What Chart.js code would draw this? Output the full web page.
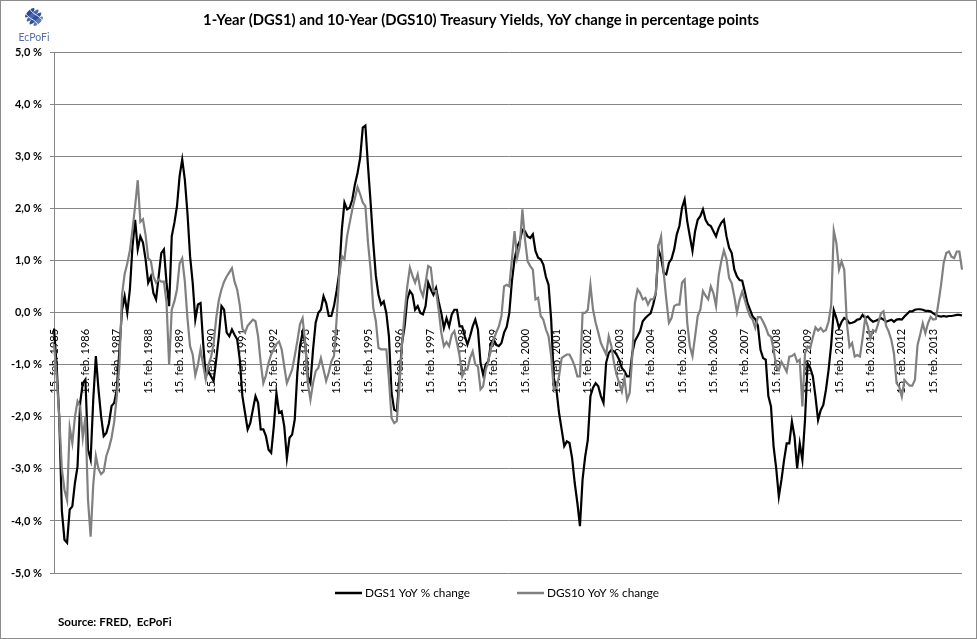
<!DOCTYPE html>
<html>
<head>
<meta charset="utf-8">
<script src="https://cdn.jsdelivr.net/npm/chart.js@4/dist/chart.umd.min.js"></script>
<style>
html,body{margin:0;padding:0;background:#fff;}
#wrap{width:977px;height:639px;position:relative;}
</style>
</head>
<body>
<div id="wrap"><canvas id="c" width="977" height="639"></canvas></div>
<script>
// ---- data (monthly, Feb 1985 .. Jan 2014) ----
const startYear = 1985;
const startMonth = 2;

const tickLabels = [
  '15. feb. 1985','15. feb. 1986','15. feb. 1987','15. feb. 1988','15. feb. 1989',
  '15. feb. 1990','15. feb. 1991','15. feb. 1992','15. feb. 1993','15. feb. 1994',
  '15. feb. 1995','15. feb. 1996','15. feb. 1997','15. feb. 1998','15. feb. 1999',
  '15. feb. 2000','15. feb. 2001','15. feb. 2002','15. feb. 2003','15. feb. 2004',
  '15. feb. 2005','15. feb. 2006','15. feb. 2007','15. feb. 2008','15. feb. 2009',
  '15. feb. 2010','15. feb. 2011','15. feb. 2012','15. feb. 2013'
];

const yTickLabels = ['-5,0 %','-4,0 %','-3,0 %','-2,0 %','-1,0 %','0,0 %','1,0 %','2,0 %','3,0 %','4,0 %','5,0 %'];

const dgs1 = [
  -0.3,-1.0,-2.0,-3.8,-4.36,-4.42,-3.78,-3.72,-3.27,-2.95,-1.73,-1.35,
  -1.28,-2.63,-2.82,-1.67,-0.83,-1.47,-1.99,-2.37,-2.31,-2.12,-1.79,-1.73,
  -1.47,-0.71,0.06,0.32,0.0,0.45,1.28,1.79,1.22,1.47,1.35,1.03,
  0.58,0.7,0.38,0.26,0.7,1.15,1.22,0.58,0.13,1.47,1.73,2.05,
  2.63,2.95,2.56,1.92,1.09,0.58,-0.13,0.16,0.19,-0.58,-1.22,-1.12,
  -1.22,-1.31,-0.9,-0.45,0.13,0.06,-0.38,-0.45,-0.32,-0.42,-0.51,-0.9,
  -1.6,-1.92,-2.24,-2.12,-1.86,-1.6,-1.73,-2.24,-2.24,-2.37,-2.63,-2.69,
  -2.18,-1.54,-1.92,-1.89,-2.18,-2.79,-2.4,-2.34,-2.05,-1.15,-0.64,-0.38,
  -0.58,-1.22,-1.35,-0.7,-0.19,0.0,0.06,0.32,0.19,-0.06,-0.06,0.13,
  0.42,0.77,1.6,2.12,1.99,2.02,2.18,2.47,2.69,2.98,3.56,3.6,
  2.82,2.12,1.35,0.71,0.35,0.16,0.22,0.0,-0.45,-1.54,-1.86,-1.89,
  -1.28,-0.58,-0.26,0.26,0.42,0.35,0.06,0.13,0.0,-0.03,0.13,0.58,
  0.45,0.35,0.48,0.22,0.0,-0.29,-0.1,-0.26,-0.03,0.06,0.06,-0.26,
  -0.26,-0.45,-0.61,-0.45,-0.26,-0.13,-0.32,-0.96,-1.19,-0.99,-0.93,-0.58,
  -0.51,-0.61,-0.64,-0.58,-0.38,-0.27,0.0,0.61,1.03,1.27,1.38,1.6,
  1.57,1.47,1.44,1.51,1.19,1.06,1.03,0.93,0.69,0.54,-0.13,-1.25,
  -1.47,-1.92,-2.24,-2.56,-2.47,-2.5,-2.79,-3.27,-3.65,-4.1,-3.2,-2.76,
  -2.44,-1.6,-1.44,-1.35,-1.41,-1.6,-1.73,-0.96,-0.77,-0.71,-0.74,-0.8,
  -0.9,-1.06,-1.12,-1.22,-1.22,-0.77,-0.54,-0.45,-0.35,-0.16,-0.1,-0.05,
  -0.01,0.16,0.38,1.22,1.06,0.77,0.74,0.96,1.04,1.22,1.51,1.67,
  2.02,2.18,1.76,1.47,1.19,1.57,1.79,1.86,1.99,1.79,1.7,1.67,
  1.57,1.47,1.63,1.73,1.79,1.47,1.25,1.15,0.83,0.7,0.63,0.62,
  0.41,0.19,0.06,-0.07,-0.12,-0.25,-0.71,-0.87,-0.9,-1.6,-1.8,-2.57,
  -2.99,-3.53,-3.21,-2.83,-2.51,-2.51,-2.09,-2.38,-2.99,-2.51,-2.83,-2.06,
  -0.97,-1.06,-1.22,-1.61,-2.06,-1.87,-1.77,-1.48,-1.1,-0.62,0.05,-0.1,
  -0.29,-0.17,-0.1,-0.13,-0.2,-0.19,-0.17,-0.13,-0.12,-0.04,-0.1,-0.07,
  -0.13,-0.17,-0.15,-0.13,-0.1,-0.13,-0.17,-0.15,-0.13,-0.17,-0.13,-0.12,
  -0.13,-0.07,-0.02,0.03,0.03,0.06,0.07,0.07,0.06,0.04,0.04,0.03,
  -0.01,-0.04,-0.06,-0.07,-0.06,-0.07,-0.06,-0.06,-0.05,-0.04,-0.04,-0.05
];

const dgs10 = [
  -0.6,-1.2,-2.0,-3.0,-3.4,-3.6,-2.2,-2.5,-2.0,-1.7,-1.8,-2.4,
  -2.0,-3.6,-4.3,-3.3,-2.75,-3.0,-3.1,-3.05,-2.75,-2.6,-2.4,-2.1,
  -1.6,-1.0,0.35,0.75,0.95,1.2,1.6,2.05,2.55,1.75,1.8,1.5,
  1.05,1.0,0.7,0.58,0.64,0.6,0.6,0.2,-1.0,0.06,0.22,0.45,
  0.95,1.05,0.6,-0.1,-0.64,-0.8,-1.2,-1.0,-0.7,-1.0,-1.28,-1.0,
  -0.85,-0.6,-0.1,0.25,0.45,0.6,0.7,0.78,0.86,0.6,0.45,0.15,
  -0.3,-0.38,-0.25,-0.19,-0.13,-0.16,-0.45,-0.96,-1.35,-1.2,-0.96,-0.8,
  -0.7,-0.6,-0.55,-0.7,-1.03,-1.35,-1.22,-1.09,-0.83,-0.54,-0.22,-0.1,
  -0.58,-1.35,-1.67,-1.35,-1.12,-1.06,-0.87,-1.09,-1.31,-1.15,-0.93,-0.83,
  -0.13,0.71,1.09,1.03,1.47,1.73,1.99,2.21,2.42,2.28,2.12,2.05,
  1.35,0.83,0.1,-0.16,-0.67,-0.7,-0.7,-0.7,-1.28,-2.02,-2.12,-2.08,
  -1.41,-0.61,0.0,0.51,0.87,0.71,0.58,0.74,0.45,0.32,0.58,0.9,
  0.87,0.42,0.42,0.06,-0.38,-0.64,-0.56,-0.64,-0.42,-0.35,-0.58,-0.83,
  -1.22,-1.09,-1.09,-0.87,-0.74,-0.99,-1.03,-1.47,-1.41,-1.09,-0.93,-0.67,
  -0.51,-0.38,-0.26,-0.06,0.51,0.54,0.51,1.03,1.57,1.06,1.28,1.99,
  1.41,0.99,0.9,0.83,0.26,0.29,-0.06,-0.13,-0.32,-0.45,-0.83,-1.47,
  -1.44,-1.22,-0.87,-0.83,-0.8,-0.8,-0.9,-1.03,-1.22,-1.22,0.0,0.0,
  0.06,0.54,0.06,-0.19,-0.38,-0.58,-0.69,-0.8,-0.45,-0.64,-0.96,-1.19,
  -1.35,-1.51,-1.25,-1.67,-1.54,-0.83,0.19,0.45,0.38,0.26,0.29,0.16,
  0.26,0.26,0.38,1.28,1.47,0.77,0.26,-0.19,-0.1,0.13,0.16,0.16,
  0.58,0.64,-0.19,-0.64,-0.83,-0.45,-0.06,0.06,0.42,0.33,0.26,0.51,
  0.38,0.13,0.71,0.99,1.2,1.03,0.67,0.57,0.31,0.01,0.25,0.41,
  0.25,0.07,-0.07,-0.13,-0.29,-0.08,-0.08,-0.17,-0.28,-0.42,-0.46,-0.71,
  -1.03,-1.1,-0.94,-1.03,-1.13,-0.84,-0.83,-0.79,-0.94,-0.9,-1.8,-0.78,
  -0.65,-0.68,-0.47,-0.28,-0.34,-0.29,-0.36,-0.33,-0.17,0.15,1.58,1.34,
  0.83,0.99,0.83,-0.2,-0.65,-0.58,-0.84,-0.81,-0.84,-0.49,-0.1,-0.26,
  -0.49,-0.33,-0.36,-0.2,-0.01,0.03,-0.25,-0.36,-0.52,-0.78,-1.35,-1.42,
  -1.61,-1.29,-1.35,-1.4,-1.4,-1.29,-0.62,-0.42,-0.2,-0.39,-0.2,-0.08,
  -0.13,-0.12,0.19,0.54,0.96,1.15,1.18,1.08,1.05,1.18,1.18,0.83
];

const seriesNames = ['DGS1 YoY % change', 'DGS10 YoY % change'];
const seriesColors = ['#000000', '#808080'];

// monthly category labels
const categories = dgs1.map((_, i) => {
  const mm = startMonth - 1 + i;
  const y = startYear + Math.floor(mm / 12);
  const m = (mm % 12) + 1;
  return y + '-' + String(m).padStart(2, '0');
});

const FONT = 'Lato, "Open Sans", "DejaVu Sans", sans-serif';

const decorPlugin = {
  id: 'decor',
  beforeDraw(chart) {
    const ctx = chart.ctx;
    ctx.save();
    ctx.fillStyle = '#ffffff';
    ctx.fillRect(0, 0, chart.width, chart.height);
    ctx.restore();
  },
  afterDraw(chart) {
    const ctx = chart.ctx;
    ctx.save();
    // outer border
    ctx.strokeStyle = '#8c8c8c';
    ctx.lineWidth = 1;
    ctx.strokeRect(0.5, 0.5, chart.width - 1, chart.height - 1);

    // logo emblem: rounded blue cluster with white weave lines
    ctx.translate(34, 17);
    ctx.rotate(-Math.PI / 4);
    const rows = [[-6, '#2a4a97'], [-2, '#4866b3'], [2, '#2f4f9c'], [6, '#5a78c0']];
    rows.forEach(([dy, c]) => {
      ctx.beginPath();
      ctx.ellipse(0, dy, 9 - Math.abs(dy) * 0.45, 2.3, 0, 0, Math.PI * 2);
      ctx.fillStyle = c;
      ctx.fill();
    });
    ctx.strokeStyle = 'rgba(255,255,255,0.9)';
    ctx.lineWidth = 0.9;
    ctx.beginPath();
    ctx.moveTo(-3, -9); ctx.bezierCurveTo(-6, -3, 0, 3, -3, 9);
    ctx.moveTo(3, -9); ctx.bezierCurveTo(0, -3, 6, 3, 3, 9);
    ctx.stroke();
    ctx.setTransform(1, 0, 0, 1, 0, 0);
    ctx.fillStyle = '#5b6fa6';
    ctx.font = '10.5px ' + FONT;
    ctx.textAlign = 'center';
    ctx.textBaseline = 'middle';
    ctx.fillText('EcPoFi', 34, 38);

    // legend
    const ds = chart.data.datasets;
    const legendY = 593;
    const legendX = [335, 517];
    ctx.font = '11.8px ' + FONT;
    ctx.textAlign = 'left';
    ctx.textBaseline = 'middle';
    ctx.lineCap = 'butt';
    ds.forEach((d, i) => {
      ctx.strokeStyle = d.borderColor;
      ctx.lineWidth = 2.5;
      ctx.beginPath();
      ctx.moveTo(legendX[i], legendY);
      ctx.lineTo(legendX[i] + 27, legendY);
      ctx.stroke();
      ctx.fillStyle = '#000';
      ctx.fillText(d.label, legendX[i] + 30, legendY);
    });

    // source
    ctx.font = 'bold 11.6px ' + FONT;
    ctx.fillStyle = '#000';
    ctx.fillText('Source: FRED,  EcPoFi', 58, 622);
    ctx.restore();
  }
};

new Chart(document.getElementById('c'), {
  type: 'line',
  data: {
    labels: categories,
    datasets: [
      { label: seriesNames[0], data: dgs1, borderColor: seriesColors[0], backgroundColor: seriesColors[0],
        borderWidth: 2.2, pointRadius: 0, tension: 0, order: 2 },
      { label: seriesNames[1], data: dgs10, borderColor: seriesColors[1], backgroundColor: seriesColors[1],
        borderWidth: 2.2, pointRadius: 0, tension: 0, order: 1 }
    ]
  },
  options: {
    responsive: false,
    animation: false,
    devicePixelRatio: 1,
    layout: { padding: { left: 0, right: 15, top: 0, bottom: 66 } },
    plugins: {
      legend: { display: false },
      tooltip: { enabled: false },
      title: {
        display: true,
        text: '1-Year (DGS1) and 10-Year (DGS10) Treasury Yields, YoY change in percentage points',
        color: '#000',
        font: { family: FONT, size: 14.8, weight: 'bold' },
        padding: { top: 11, bottom: 24 }
      }
    },
    scales: {
      x: {
        type: 'category',
        position: { y: 0 },
        offset: false,
        grid: { display: false },
        border: { display: false },
        ticks: {
          autoSkip: false,
          maxRotation: 90,
          minRotation: 90,
          padding: 8,
          color: '#000',
          font: { family: FONT, size: 11 },
          callback: (v, i) => (i % 12 === 0 ? tickLabels[i / 12] : '')
        },
        afterFit: (s) => { s.height = 0; s.paddingLeft = 0; s.paddingRight = 0; }
      },
      y: {
        min: -5,
        max: 5,
        grid: { color: '#868686', lineWidth: 1, tickLength: 4, drawTicks: true },
        border: { color: '#868686', width: 1 },
        ticks: {
          stepSize: 1,
          padding: 8,
          color: '#000',
          font: { family: FONT, size: 11, weight: 'bold' },
          callback: (v) => yTickLabels[Math.round(v) + 5]
        },
        afterFit: (s) => { s.width = 54; }
      }
    }
  },
  plugins: [decorPlugin]
});
</script>
</body>
</html>
